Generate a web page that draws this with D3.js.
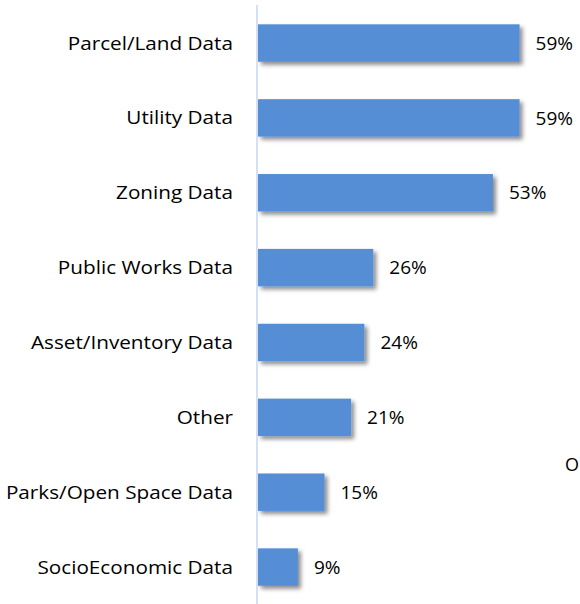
<!DOCTYPE html>
<html>
<head>
<meta charset="utf-8">
<script src="https://cdn.jsdelivr.net/npm/d3@7"></script>
<style>
  body { margin: 0; background: #fff; }
</style>
</head>
<body>
<script>
  // chart values
  var categories = ["Parcel/Land Data", "Utility Data", "Zoning Data", "Public Works Data",
                    "Asset/Inventory Data", "Other", "Parks/Open Space Data", "SocioEconomic Data"];
  var percents = [59, 59, 53, 26, 24, 21, 15, 9];

  var width = 580, height = 604;
  var x0 = 258;
  var font = "'Open Sans', sans-serif";
  var stretch = 1.12;   // source image is a bit wider than tall

  var svg = d3.select("body").append("svg")
      .attr("width", width)
      .attr("height", height);

  var defs = svg.append("defs");
  var f = defs.append("filter").attr("id", "shadow")
      .attr("x", "-10%").attr("y", "-20%").attr("width", "130%").attr("height", "160%");
  f.append("feDropShadow")
      .attr("dx", 3).attr("dy", 3).attr("stdDeviation", 2)
      .attr("flood-color", "#000").attr("flood-opacity", 0.45);

  var x = d3.scaleLinear().domain([0, 60]).range([x0, x0 + 266]);
  var y = d3.scaleBand().domain(categories).range([5.6, 604.5]).paddingInner(0.5).paddingOuter(0.25);

  var data = categories.map(function(c, i) { return { name: c, value: percents[i] }; });

  svg.selectAll("rect.bar")
      .data(data)
    .enter().append("rect")
      .attr("class", "bar")
      .attr("x", x(0))
      .attr("y", function(d) { return y(d.name); })
      .attr("width", function(d) { return x(d.value) - x(0); })
      .attr("height", y.bandwidth())
      .attr("fill", "#558ed5")
      .attr("filter", "url(#shadow)");

  // category axis (line only, labels on the left)
  svg.append("line")
      .attr("x1", x0 - 1).attr("x2", x0 - 1)
      .attr("y1", 5).attr("y2", height)
      .attr("stroke", "#c6d7ee")
      .attr("stroke-width", 1.5);

  function label(sel) {
    sel.attr("dy", "0.35em")
      .style("font-family", font)
      .style("font-size", "18.5px")
      .style("fill", "#000");
  }

  svg.selectAll("text.cat")
      .data(data)
    .enter().append("text")
      .attr("class", "cat")
      .attr("transform", function(d) {
        return "translate(233," + (y(d.name) + y.bandwidth() / 2) + ") scale(" + stretch + ",1)";
      })
      .attr("text-anchor", "end")
      .call(label)
      .text(function(d) { return d.name; });

  svg.selectAll("text.val")
      .data(data)
    .enter().append("text")
      .attr("class", "val")
      .attr("transform", function(d) {
        return "translate(" + (x(d.value) + 16) + "," + (y(d.name) + y.bandwidth() / 2) + ")";
      })
      .call(label)
      .style("font-size", "19px")
      .text(function(d) { return d.value + "%"; });

  // stray letter at right edge
  svg.append("text")
      .attr("transform", "translate(565,465)")
      .call(label)
      .style("font-size", "18px")
      .text("O");
</script>
</body>
</html>
